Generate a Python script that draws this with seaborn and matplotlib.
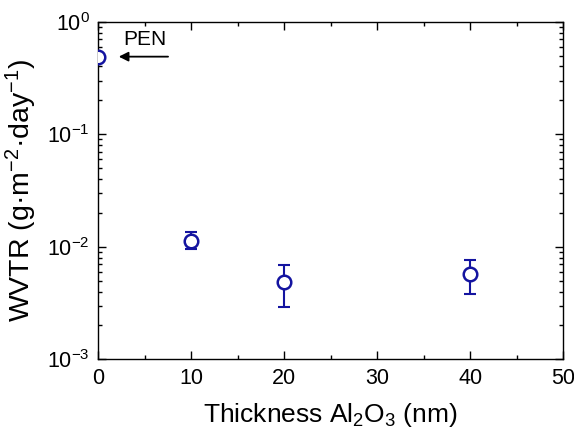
import matplotlib
matplotlib.use("Agg")
import matplotlib.pyplot as plt
import seaborn as sns
import numpy as np
import pandas as pd
from matplotlib.ticker import LogLocator, MultipleLocator

thickness = [0, 10, 20, 40]
wvtr = [0.489, 0.0113, 0.00483, 0.00575]
err_upper = [0.0, 0.01343, 0.00684, 0.00766]
err_lower = [0.0, 0.00948, 0.00289, 0.0038]

sns.set_theme(style="ticks")
plt.rcParams['font.family'] = ['Liberation Sans', 'DejaVu Sans']
plt.rcParams['mathtext.fontset'] = 'custom'
plt.rcParams['mathtext.rm'] = 'Liberation Sans'
plt.rcParams['mathtext.it'] = 'Liberation Sans:italic'
plt.rcParams['mathtext.bf'] = 'Liberation Sans:bold'
plt.rcParams['text.color'] = 'black'
plt.rcParams['axes.labelcolor'] = 'black'
plt.rcParams['xtick.color'] = 'black'
plt.rcParams['ytick.color'] = 'black'

df = pd.DataFrame({"x": thickness, "y": wvtr})
color = "#1414a0"

fig = plt.figure(figsize=(5.74, 4.32), dpi=100)
ax = fig.add_axes([0.1713, 0.1683, 0.981 - 0.1713, 0.9498 - 0.1683])

yerr = np.array([[max(v - lo, 0) if lo > 0 else 0 for v, lo in zip(wvtr, err_lower)],
                 [max(hi - v, 0) if hi > 0 else 0 for v, hi in zip(wvtr, err_upper)]])
ax.errorbar(thickness, wvtr, yerr=yerr, fmt='none', ecolor=color, elinewidth=1.5,
            capsize=4, capthick=1.5, zorder=2)
sns.scatterplot(data=df, x="x", y="y", ax=ax, marker='o', s=95,
                facecolor='white', edgecolor=color, linewidth=1.8, zorder=3)

ax.set_yscale('log')
ax.set_xlim(0, 50)
ax.set_ylim(1e-3, 1)
ax.xaxis.set_major_locator(MultipleLocator(10))
ax.xaxis.set_minor_locator(MultipleLocator(5))
ax.yaxis.set_major_locator(LogLocator(base=10))
ax.yaxis.set_minor_locator(LogLocator(base=10, subs=np.arange(2, 10)))
ax.tick_params(which='both', direction='in', top=True, right=True, width=1.0, color='black')
ax.tick_params(which='major', length=5.5, labelsize=15.5, pad=6)
ax.tick_params(which='minor', length=3)
for s in ax.spines.values():
    s.set_linewidth(1.0)
    s.set_color('black')

ax.set_xlabel("Thickness Al$_2$O$_3$ (nm)", fontsize=19, labelpad=9)
ax.set_ylabel("WVTR (g·m$^{-2}$·day$^{-1}$)", fontsize=20.5, labelpad=6)

ax.annotate("", xy=(1.9, 0.489), xytext=(7.8, 0.489),
            arrowprops=dict(arrowstyle='-|>', color='black', lw=1.3, mutation_scale=14))
ax.text(5.0, 0.69, "PEN", fontsize=15, ha='center', va='center')

fig.savefig("out.png", dpi=100)
